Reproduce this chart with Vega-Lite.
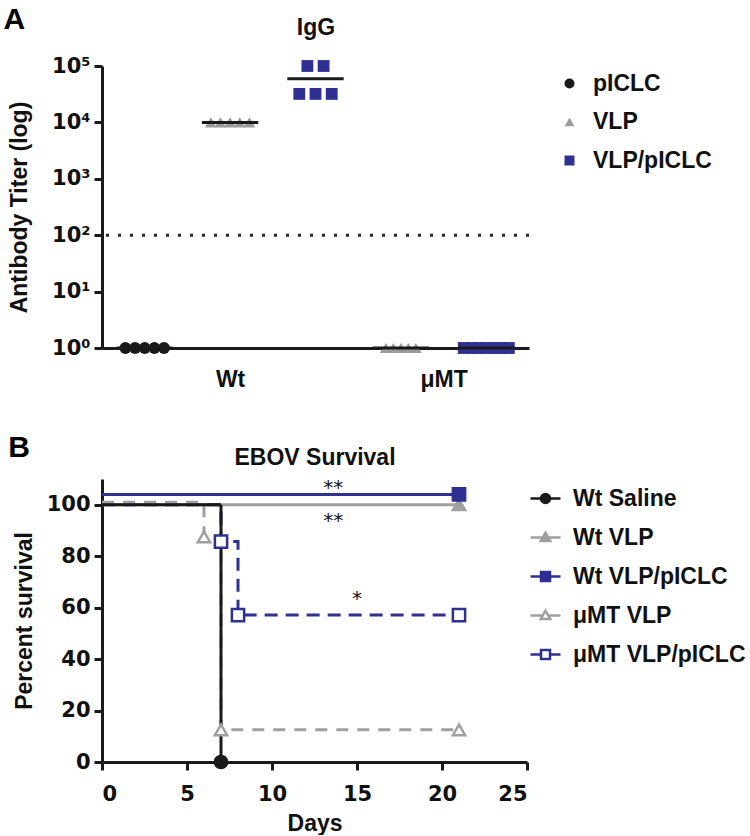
{
  "$schema": "https://vega.github.io/schema/vega-lite/v6.json",
  "padding": {"left": 3, "top": 5, "right": 0, "bottom": 0},
  "config": {
    "font": "Liberation Sans",
    "view": {"stroke": null},
    "axis": {"domainColor": "#1a1a1a", "domainWidth": 3, "tickColor": "#1a1a1a", "tickWidth": 3, "tickSize": 8, "labelFont": "DejaVu Sans", "labelFontWeight": "bold", "labelFontSize": 21, "labelColor": "#111111", "titleFont": "Liberation Sans", "titleFontSize": 23, "titleFontWeight": "bold", "titleColor": "#111111", "grid": false},
    "legend": {"labelFont": "Liberation Sans", "labelFontWeight": "bold", "labelFontSize": 23, "labelColor": "#111111", "labelLimit": 400},
    "title": {"font": "Liberation Sans", "fontSize": 30, "fontWeight": "bold", "color": "#000000", "anchor": "start", "frame": "bounds"}
  },
  "datasets": {
    "titers": [
      {"genotype": "Wt", "treatment": "pICLC", "titer": 1},
      {"genotype": "Wt", "treatment": "pICLC", "titer": 1},
      {"genotype": "Wt", "treatment": "pICLC", "titer": 1},
      {"genotype": "Wt", "treatment": "pICLC", "titer": 1},
      {"genotype": "Wt", "treatment": "pICLC", "titer": 1},
      {"genotype": "Wt", "treatment": "VLP", "titer": 10000},
      {"genotype": "Wt", "treatment": "VLP", "titer": 10000},
      {"genotype": "Wt", "treatment": "VLP", "titer": 10000},
      {"genotype": "Wt", "treatment": "VLP", "titer": 10000},
      {"genotype": "Wt", "treatment": "VLP", "titer": 10000},
      {"genotype": "Wt", "treatment": "VLP/pICLC", "titer": 100000},
      {"genotype": "Wt", "treatment": "VLP/pICLC", "titer": 100000},
      {"genotype": "Wt", "treatment": "VLP/pICLC", "titer": 32000},
      {"genotype": "Wt", "treatment": "VLP/pICLC", "titer": 32000},
      {"genotype": "Wt", "treatment": "VLP/pICLC", "titer": 32000},
      {"genotype": "μMT", "treatment": "VLP", "titer": 1},
      {"genotype": "μMT", "treatment": "VLP", "titer": 1},
      {"genotype": "μMT", "treatment": "VLP", "titer": 1},
      {"genotype": "μMT", "treatment": "VLP", "titer": 1},
      {"genotype": "μMT", "treatment": "VLP", "titer": 1},
      {"genotype": "μMT", "treatment": "VLP/pICLC", "titer": 1},
      {"genotype": "μMT", "treatment": "VLP/pICLC", "titer": 1},
      {"genotype": "μMT", "treatment": "VLP/pICLC", "titer": 1},
      {"genotype": "μMT", "treatment": "VLP/pICLC", "titer": 1},
      {"genotype": "μMT", "treatment": "VLP/pICLC", "titer": 1},
      {"genotype": "μMT", "treatment": "VLP/pICLC", "titer": 1},
      {"genotype": "μMT", "treatment": "VLP/pICLC", "titer": 1}
    ],
    "detection": [{"limit": 100}],
    "survival": [
      {"series": "Wt VLP", "day": 0, "survival": 100, "marker": false},
      {"series": "Wt VLP", "day": 21, "survival": 100, "marker": true},
      {"series": "μMT VLP/pICLC", "day": 0, "survival": 100, "marker": false},
      {"series": "μMT VLP/pICLC", "day": 7, "survival": 85.7, "marker": true},
      {"series": "μMT VLP/pICLC", "day": 8, "survival": 57.1, "marker": true},
      {"series": "μMT VLP/pICLC", "day": 21, "survival": 57.1, "marker": true},
      {"series": "μMT VLP", "day": 0, "survival": 101, "marker": false},
      {"series": "μMT VLP", "day": 6, "survival": 87.5, "marker": true},
      {"series": "μMT VLP", "day": 7, "survival": 12.5, "marker": true},
      {"series": "μMT VLP", "day": 21, "survival": 12.5, "marker": true},
      {"series": "Wt VLP/pICLC", "day": 0, "survival": 104, "marker": false},
      {"series": "Wt VLP/pICLC", "day": 21, "survival": 104, "marker": true},
      {"series": "Wt Saline", "day": 0, "survival": 100, "marker": false},
      {"series": "Wt Saline", "day": 7, "survival": 0, "marker": true}
    ],
    "significance": [
      {"label": "**", "day": 13.6, "pos": 104},
      {"label": "**", "day": 13.6, "pos": 91.5},
      {"label": "*", "day": 15, "pos": 61}
    ]
  },
  "bounds": "flush",
  "spacing": 131,
  "vconcat": [
    {
      "title": {"text": "A", "offset": -19, "dx": -5},
      "width": 427,
      "height": 282,
      "resolve": {"axis": {"x": "independent"}, "scale": {"color": "independent", "shape": "independent"}},
      "layer": [
        {
          "data": {"name": "detection"},
          "mark": {"type": "rule", "strokeDash": [3, 9], "strokeWidth": 3, "color": "#2a2a2a"},
          "encoding": {
            "y": {"field": "limit", "type": "quantitative", "scale": {"type": "log", "domain": [1, 100000]},
                  "axis": {"values": [1, 10, 100, 1000, 10000, 100000], "labelExpr": "'10' + ['⁰','¹','²','³','⁴','⁵'][round(log(datum.value) / LN10)]", "title": "Antibody Titer (log)", "titlePadding": 20, "labelPadding": 4}}
          }
        },
        {
          "data": {"name": "titers"},
          "transform": [
            {"calculate": "indexof(['Wt|pICLC','Wt|VLP','Wt|VLP/pICLC','μMT|VLP','μMT|VLP/pICLC'], datum.genotype + '|' + datum.treatment) + 0.5", "as": "col"},
            {"window": [{"op": "row_number", "as": "rank"}], "groupby": ["genotype", "treatment", "titer"]},
            {"joinaggregate": [{"op": "count", "as": "n"}], "groupby": ["genotype", "treatment", "titer"]},
            {"calculate": "datum.col == 2.5 ? 0.19 : (datum.col < 2 ? 0.113 : 0.088)", "as": "sp"},
            {"calculate": "datum.col + (datum.rank - (datum.n + 1) / 2) * datum.sp", "as": "xpos"}
          ],
          "mark": {"type": "point", "filled": true, "opacity": 1, "size": 140},
          "encoding": {
            "x": {"field": "xpos", "type": "quantitative", "scale": {"domain": [0, 5], "nice": false, "zero": false},
                  "axis": {"values": [1.5, 4], "labelExpr": "datum.value == 1.5 ? 'Wt' : 'μMT'", "ticks": false, "labelPadding": 20, "title": null, "labelFlush": false, "labelFont": "Liberation Sans", "labelFontSize": 23}},
            "y": {"field": "titer", "type": "quantitative", "scale": {"type": "log", "domain": [1, 100000]},
                  "axis": {"values": [1, 10, 100, 1000, 10000, 100000], "labelExpr": "'10' + ['⁰','¹','²','³','⁴','⁵'][round(log(datum.value) / LN10)]", "title": "Antibody Titer (log)", "titlePadding": 20, "labelPadding": 4}},
            "color": {"field": "treatment", "type": "nominal", "legend": null, "scale": {"domain": ["pICLC", "VLP", "VLP/pICLC"], "range": ["#1a1a1a", "#9b9b9b", "#2e3192"]}},
            "shape": {"field": "treatment", "type": "nominal", "legend": null, "scale": {"domain": ["pICLC", "VLP", "VLP/pICLC"], "range": ["circle", "triangle-up", "square"]}}
          }
        },
        {
          "data": {"name": "titers"},
          "transform": [
            {"aggregate": [{"op": "mean", "field": "titer", "as": "mean"}], "groupby": ["genotype", "treatment"]},
            {"calculate": "indexof(['Wt|pICLC','Wt|VLP','Wt|VLP/pICLC','μMT|VLP','μMT|VLP/pICLC'], datum.genotype + '|' + datum.treatment) + 0.5", "as": "col"},
            {"calculate": "datum.col - 0.33", "as": "xa"},
            {"calculate": "datum.col + 0.33", "as": "xb"}
          ],
          "mark": {"type": "rule", "color": "#1a1a1a", "strokeWidth": 3},
          "encoding": {
            "x": {"field": "xa", "type": "quantitative", "scale": {"domain": [0, 5], "nice": false, "zero": false},
                  "axis": {"orient": "top", "title": "IgG", "domain": false, "ticks": false, "labels": false, "titlePadding": 27}},
            "x2": {"field": "xb"},
            "y": {"field": "mean", "type": "quantitative", "scale": {"type": "log", "domain": [1, 100000]},
                  "axis": {"values": [1, 10, 100, 1000, 10000, 100000], "labelExpr": "'10' + ['⁰','¹','²','³','⁴','⁵'][round(log(datum.value) / LN10)]", "title": "Antibody Titer (log)", "titlePadding": 20, "labelPadding": 4}}
          }
        },
        {
          "data": {"name": "titers"},
          "transform": [{"filter": "false"}],
          "mark": {"type": "point", "filled": true, "opacity": 1, "size": 110},
          "encoding": {
            "color": {"field": "treatment", "type": "nominal", "scale": {"domain": ["pICLC", "VLP", "VLP/pICLC"], "range": ["#1a1a1a", "#9b9b9b", "#2e3192"]},
                      "legend": {"title": null, "orient": "right", "offset": 23, "padding": 6, "rowPadding": 14.5, "labelOffset": 12}},
            "shape": {"field": "treatment", "type": "nominal", "scale": {"domain": ["pICLC", "VLP", "VLP/pICLC"], "range": ["circle", "triangle-up", "square"]},
                      "legend": {"title": null, "orient": "right", "offset": 23, "padding": 6, "rowPadding": 14.5, "labelOffset": 12}}
          }
        }
      ]
    },
    {
      "title": {"text": "B", "offset": -17, "dx": -5},
      "width": 425,
      "height": 283,
      "resolve": {"axis": {"x": "independent"}, "scale": {"shape": "independent", "fill": "independent", "stroke": "independent"}},
      "layer": [
        {
          "data": {"name": "survival"},
          "mark": {"type": "line", "interpolate": "step-after", "strokeWidth": 3},
          "encoding": {
            "x": {"field": "day", "type": "quantitative", "scale": {"domain": [0, 25], "nice": false, "zero": false},
                  "axis": {"values": [0, 5, 10, 15, 20, 25], "title": "Days", "titlePadding": 8, "labelPadding": 13}},
            "y": {"field": "survival", "type": "quantitative", "scale": {"domain": [0, 110], "nice": false},
                  "axis": {"values": [0, 20, 40, 60, 80, 100], "title": "Percent survival", "titlePadding": 10, "labelPadding": 4}},
            "stroke": {"field": "series", "type": "nominal", "legend": null,
                       "scale": {"domain": ["Wt Saline", "Wt VLP", "Wt VLP/pICLC", "μMT VLP", "μMT VLP/pICLC"], "range": ["#1a1a1a", "#a0a0a0", "#2e3192", "#a0a0a0", "#2e3192"]}},
            "strokeDash": {"field": "series", "type": "nominal", "legend": null,
                       "scale": {"domain": ["Wt Saline", "Wt VLP", "Wt VLP/pICLC", "μMT VLP", "μMT VLP/pICLC"], "range": [[1, 0], [1, 0], [1, 0], [12, 9], [13, 8]]}}
          }
        },
        {
          "data": {"name": "survival"},
          "transform": [{"filter": "datum.marker"}],
          "mark": {"type": "point", "filled": true, "opacity": 1, "strokeWidth": 2.5, "size": 150},
          "encoding": {
            "x": {"field": "day", "type": "quantitative", "scale": {"domain": [0, 25], "nice": false, "zero": false}, "axis": null},
            "y": {"field": "survival", "type": "quantitative", "scale": {"domain": [0, 110], "nice": false},
                  "axis": {"values": [0, 20, 40, 60, 80, 100], "title": "Percent survival", "titlePadding": 10, "labelPadding": 4}},
            "shape": {"field": "series", "type": "nominal", "legend": null,
                      "scale": {"domain": ["Wt Saline", "Wt VLP", "Wt VLP/pICLC", "μMT VLP", "μMT VLP/pICLC"], "range": ["circle", "triangle-up", "square", "triangle-up", "square"]}},
            "fill": {"field": "series", "type": "nominal", "legend": null,
                     "scale": {"domain": ["Wt Saline", "Wt VLP", "Wt VLP/pICLC", "μMT VLP", "μMT VLP/pICLC"], "range": ["#1a1a1a", "#a0a0a0", "#2e3192", "#ffffff", "#ffffff"]}},
            "stroke": {"field": "series", "type": "nominal", "legend": null,
                       "scale": {"domain": ["Wt Saline", "Wt VLP", "Wt VLP/pICLC", "μMT VLP", "μMT VLP/pICLC"], "range": ["#1a1a1a", "#a0a0a0", "#2e3192", "#a0a0a0", "#2e3192"]}}
          }
        },
        {
          "data": {"name": "significance"},
          "mark": {"type": "text", "font": "DejaVu Sans", "fontSize": 20, "baseline": "alphabetic", "align": "center", "color": "#111111"},
          "encoding": {
            "x": {"field": "day", "type": "quantitative", "scale": {"domain": [0, 25], "nice": false, "zero": false},
                  "axis": {"orient": "top", "title": "EBOV Survival", "domain": false, "ticks": false, "labels": false, "titlePadding": 10}},
            "y": {"field": "pos", "type": "quantitative", "scale": {"domain": [0, 110], "nice": false},
                  "axis": {"values": [0, 20, 40, 60, 80, 100], "title": "Percent survival", "titlePadding": 10, "labelPadding": 4}},
            "text": {"field": "label"}
          }
        },
        {
          "data": {"name": "survival"},
          "transform": [{"filter": "false"}],
          "mark": {"type": "point", "filled": true, "opacity": 1},
          "encoding": {
            "shape": {"field": "series", "type": "nominal",
                      "scale": {"domain": ["Wt Saline", "Wt VLP", "Wt VLP/pICLC", "μMT VLP", "μMT VLP/pICLC"],
                                "range": ["M-1,0H1M0.3,0A0.3,0.3,0,1,1,-0.3,0A0.3,0.3,0,1,1,0.3,0Z", "M-1,0H1M0,-0.32L0.32,0.24L-0.32,0.24Z", "M-1,0H1M-0.3,-0.3H0.3V0.3H-0.3Z", "M-1,0H-0.17M0.17,0H1M0,-0.32L0.32,0.24L-0.32,0.24Z", "M-1,0H-0.3M0.3,0H1M-0.3,-0.3H0.3V0.3H-0.3Z"]},
                      "legend": {"title": null, "orient": "right", "offset": -1, "padding": 3, "symbolSize": 900, "symbolStrokeWidth": 2.5, "rowPadding": 10, "labelOffset": 11}},
            "fill": {"field": "series", "type": "nominal",
                     "scale": {"domain": ["Wt Saline", "Wt VLP", "Wt VLP/pICLC", "μMT VLP", "μMT VLP/pICLC"], "range": ["#1a1a1a", "#a0a0a0", "#2e3192", "#ffffff", "#ffffff"]},
                     "legend": {"title": null, "orient": "right", "offset": -1, "padding": 3, "symbolSize": 900, "symbolStrokeWidth": 2.5, "rowPadding": 10, "labelOffset": 11}},
            "stroke": {"field": "series", "type": "nominal",
                       "scale": {"domain": ["Wt Saline", "Wt VLP", "Wt VLP/pICLC", "μMT VLP", "μMT VLP/pICLC"], "range": ["#1a1a1a", "#a0a0a0", "#2e3192", "#a0a0a0", "#2e3192"]},
                       "legend": {"title": null, "orient": "right", "offset": -1, "padding": 3, "symbolSize": 900, "symbolStrokeWidth": 2.5, "rowPadding": 10, "labelOffset": 11}}
          }
        }
      ]
    }
  ]
}
